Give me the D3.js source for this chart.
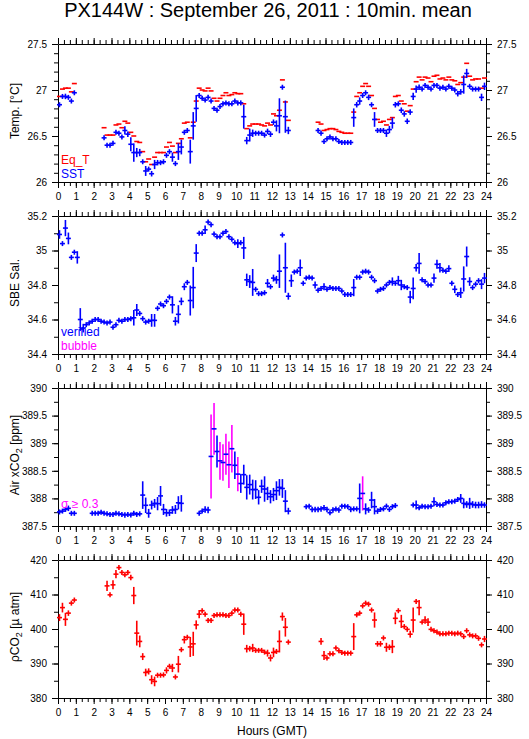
<!DOCTYPE html>
<html>
<head>
<meta charset="utf-8">
<script src="https://cdn.jsdelivr.net/npm/d3@7/dist/d3.min.js"></script>
<style>
body { margin: 0; background: #fff; }
svg text { font-family: "Liberation Sans", Arial, Helvetica, sans-serif; }
</style>
</head>
<body>
<script>
// 10 minute means: 144 slots per day, slot i covers i*10 .. i*10+10 min (GMT), null = no data
const hourTicks = [0,1,2,3,4,5,6,7,8,9,10,11,12,13,14,15,16,17,18,19,20,21,22,23,24]
const tempTicks = [26, 26.5, 27, 27.5]
const salTicks = [34.4, 34.6, 34.8, 35, 35.2]
const airTicks = [387.5, 388, 388.5, 389, 389.5, 390]
const pco2Ticks = [380, 390, 400, 410, 420]

const eqT = [
  26.93, 27.01, 27.02, 27.02, 26.98, 27.07, null, null, null, null, null, null,
  null, null, null, 26.59, 26.51, 26.51, 26.51, 26.62, 26.63, 26.59, 26.66, 26.64,
  26.54, 26.50, 26.44, 26.43, 26.33, 26.22, 26.25, 26.19, 26.27, 26.32, 26.32, 26.32,
  26.38, 26.43, 26.39, 26.32, 26.42, 26.47, 26.64, 26.65, 26.48, 26.65, 26.88, 27.02,
  27.00, 26.99, 27.02, 26.99, 26.91, 26.88, 26.91, 26.94, 26.97, 26.94, 26.95, 26.97,
  26.96, 26.96, 26.85, 26.58, 26.61, 26.63, 26.63, 26.63, 26.62, 26.61, 26.64, 26.62,
  26.74, 26.72, 26.78, 27.11, 26.87, 26.67, null, null, null, null, null, null,
  null, null, null, 26.65, 26.63, 26.56, 26.57, 26.58, 26.58, 26.57, 26.55, 26.54,
  26.53, 26.53, 26.53, 26.76, 26.93, 26.97, 27.04, 27.07, 27.04, 26.94, 26.80, 26.68,
  26.65, 26.66, 26.62, 26.68, 26.70, 26.93, 26.94, 26.88, 26.85, 26.77, 26.83, 27.01,
  27.09, 27.14, 27.11, 27.14, 27.13, 27.09, 27.15, 27.16, 27.12, 27.13, 27.11, 27.14,
  27.11, 27.10, 27.06, 27.08, 27.14, 27.29, 27.15, 27.11, 27.12, 27.12, 27.02, 27.13
]
const sst = [
  26.84, 26.93, 26.93, 26.92, 26.88, 26.97, null, null, null, null, null, null,
  null, null, null, 26.48, 26.40, 26.40, 26.42, 26.54, 26.53, 26.49, 26.56, 26.52,
  26.41, 26.32, 26.32, 26.32, 26.22, 26.12, 26.14, 26.09, 26.19, 26.21, 26.21, 26.22,
  26.29, 26.33, 26.27, 26.20, 26.33, 26.38, 26.54, 26.56, 26.33, 26.61, 26.80, 26.94,
  26.91, 26.89, 26.92, 26.88, 26.80, 26.78, 26.82, 26.85, 26.86, 26.85, 26.85, 26.88,
  26.86, 26.86, 26.71, 26.45, 26.51, 26.53, 26.53, 26.53, 26.53, 26.51, 26.55, 26.52,
  26.65, 26.61, 26.72, 27.03, 26.71, 26.56, null, null, null, null, null, null,
  null, null, null, 26.56, 26.53, 26.44, 26.47, 26.49, 26.47, 26.47, 26.44, 26.43,
  26.43, 26.43, 26.43, 26.70, 26.84, 26.88, 26.94, 26.97, 26.92, 26.84, 26.68, 26.56,
  26.56, 26.56, 26.53, 26.57, 26.64, 26.84, 26.85, 26.78, 26.74, 26.66, 26.76, 26.93,
  27.01, 27.03, 27.01, 27.05, 27.03, 27.01, 27.05, 27.05, 27.02, 27.03, 27.01, 27.04,
  27.02, 27.00, 26.96, 26.98, 27.06, 27.18, 27.04, 27.01, 27.01, 27.01, 26.92, 27.04
]
const sstSd = [
  0, 0, 0.03, 0.02, 0, 0, 0, 0, 0, 0, 0, 0,
  0, 0, 0, 0, 0, 0.02, 0.02, 0.02, 0, 0, 0.045, 0.03,
  0.076, 0.1, 0.05, 0.04, 0, 0.054, 0, 0.03, 0.05, 0.03, 0, 0,
  0, 0, 0.05, 0, 0.09, 0.08, 0, 0, 0.13, 0.15, 0.145, 0,
  0, 0.02, 0.02, 0.02, 0, 0, 0, 0, 0.02, 0, 0, 0,
  0, 0, 0.13, 0.04, 0.07, 0.04, 0.02, 0, 0, 0.02, 0.03, 0.03,
  0.03, 0.06, 0.19, 0.02, 0.175, 0.04, 0, 0, 0, 0, 0, 0,
  0, 0, 0, 0.02, 0.02, 0, 0, 0.02, 0, 0, 0, 0,
  0, 0, 0, 0.1, 0.03, 0.04, 0.02, 0, 0.03, 0, 0.08, 0,
  0, 0, 0.04, 0.04, 0.06, 0.03, 0, 0.03, 0.03, 0.03, 0.03, 0.04,
  0.04, 0.03, 0, 0, 0, 0, 0, 0, 0, 0, 0, 0,
  0, 0, 0.03, 0.03, 0.1, 0.05, 0.02, 0, 0.02, 0.02, 0.04, 0.04
]

const sal = [
  35.093, 35.04, 35.13, 35.07, 34.96, 34.99, 34.96, 34.60, 34.55, 34.57, 34.58, 34.59,
  34.60, 34.60, 34.59, 34.585, 34.58, 34.585, 34.555, 34.57, 34.595, 34.59, 34.60, 34.60,
  34.605, 34.61, 34.655, 34.635, 34.605, 34.585, 34.59, 34.595, 34.595, 34.665, 34.69, 34.68,
  34.705, 34.73, 34.685, 34.59, 34.63, 34.705, 34.79, 34.815, 34.71, 34.785, 34.985, 35.10,
  35.10, 35.12, 35.165, 35.15, 35.095, 35.08, 35.08, 35.10, 35.11, 35.08, 35.065, 35.045,
  35.04, 35.045, 35.015, 34.83, 34.82, 34.815, 34.775, 34.75, 34.75, 34.755, 34.81, 34.79,
  34.84, 34.83, 34.88, 35.09, 34.90, 34.735, 34.825, 34.875, 34.88, 34.90, 34.81, 34.84,
  34.845, 34.84, 34.80, 34.77, 34.78, 34.79, 34.775, 34.785, 34.78, 34.78, 34.78, 34.765,
  34.745, 34.745, 34.745, 34.785, 34.845, 34.845, 34.875, 34.88, 34.875, 34.845, 34.825, 34.765,
  34.775, 34.78, 34.80, 34.815, 34.82, 34.81, 34.825, 34.80, 34.79, 34.785, 34.73, 34.78,
  34.90, 34.925, 34.83, 34.82, 34.80, 34.80, 34.84, 34.92, 34.90, 34.885, 34.88, 34.895,
  34.81, 34.775, 34.745, 34.755, 34.835, 34.965, 34.82, 34.785, 34.805, 34.825, 34.805, 34.84
]
const salSd = [
  0.025, 0.01, 0.047, 0.034, 0, 0.01, 0.036, 0.066, 0.025, 0.01, 0, 0,
  0.01, 0, 0, 0, 0, 0, 0, 0.01, 0, 0, 0, 0,
  0, 0.045, 0.035, 0.01, 0, 0.01, 0.01, 0.037, 0.037, 0, 0, 0,
  0, 0, 0.05, 0.025, 0.053, 0.022, 0.02, 0, 0.087, 0.12, 0.052, 0,
  0, 0.025, 0.01, 0, 0, 0, 0, 0, 0.01, 0, 0, 0,
  0.025, 0, 0.064, 0.036, 0.037, 0.078, 0, 0, 0, 0, 0.025, 0,
  0.02, 0.023, 0.097, 0.01, 0.145, 0.02, 0.036, 0, 0, 0.048, 0, 0.01,
  0, 0, 0.02, 0, 0, 0.02, 0, 0, 0, 0, 0, 0,
  0, 0, 0, 0.05, 0.01, 0.01, 0, 0, 0, 0, 0, 0,
  0, 0, 0, 0.01, 0.024, 0.01, 0.028, 0.03, 0, 0, 0.036, 0.063,
  0.022, 0.06, 0, 0, 0, 0, 0.027, 0.026, 0.028, 0, 0, 0.02,
  0, 0.022, 0, 0.03, 0.073, 0.058, 0.025, 0, 0, 0.01, 0.029, 0.03
]

const airCo2 = [
  387.755, 387.77, 387.80, 387.82, 387.73, 387.73, null, null, null, null, null, 387.73,
  387.73, 387.73, 387.75, 387.73, 387.72, 387.71, 387.71, 387.73, 387.72, 387.71, 387.70, 387.71,
  387.70, 387.73, 387.71, 387.72, 388.06, 387.875, 387.73, 387.88, 387.91, 387.905, 388.045, 387.80,
  387.74, 387.74, 387.79, 387.80, 387.92, 387.91, null, null, null, null, null, 387.73,
  387.77, 387.80, 387.79, 388.76, 389.26, 388.85, 388.68, 388.65, 388.80, 388.61, 388.90, 388.60,
  388.44, 388.27, 388.43, 388.20, 388.25, 388.16, 388.16, 388.02, 388.22, 388.17, 388.09, 388.03,
  388.07, 388.14, 388.20, 388.18, 387.95, 387.77, null, null, null, null, null, 387.85,
  387.86, 387.80, 387.80, 387.80, 387.81, 387.83, 387.80, 387.74, 387.79, 387.81, 387.79, 387.86,
  387.86, 387.85, 387.80, 387.81, 387.81, 388.00, 388.09, 387.81, 387.79, 387.97, 387.85, 387.77,
  387.80, 387.81, 387.86, 387.80, 387.85, 387.87, null, null, null, null, null, 387.88,
  387.88, 387.83, 387.86, 387.85, 387.85, 387.86, 387.94, 387.89, 387.88, 387.88, 387.92, 387.94,
  387.94, 387.95, 387.98, 388.00, 387.91, 387.89, 387.91, 387.89, 387.88, 387.88, 387.89, 387.88
]
const airSd = [
  0.03, 0.02, 0.04, 0.05, 0.03, 0.02, 0, 0, 0, 0, 0, 0.02,
  0.02, 0.02, 0.04, 0.02, 0.02, 0.02, 0.02, 0.02, 0.02, 0.02, 0.05, 0.02,
  0.02, 0.02, 0.03, 0.02, 0.25, 0.14, 0.08, 0.08, 0.08, 0.12, 0.18, 0.1,
  0.07, 0.06, 0.07, 0.08, 0.12, 0.15, 0, 0, 0, 0, 0, 0.02,
  0.03, 0.06, 0.06, 0.76, 0.47, 0.29, 0.34, 0.33, 0.37, 0.42, 0.43, 0.25,
  0.31, 0.17, 0.18, 0.22, 0.18, 0.18, 0.17, 0.13, 0.12, 0.23, 0.12, 0.12,
  0.12, 0.17, 0.15, 0.17, 0.2, 0.06, 0, 0, 0, 0, 0, 0.03,
  0.04, 0.05, 0.05, 0.05, 0.05, 0.05, 0.05, 0.04, 0.05, 0.04, 0.05, 0.03,
  0.03, 0.03, 0.05, 0.04, 0.04, 0.27, 0.31, 0.1, 0.05, 0.15, 0.14, 0.05,
  0.04, 0.03, 0.04, 0.04, 0.04, 0.03, 0, 0, 0, 0, 0, 0.03,
  0.08, 0.04, 0.04, 0.04, 0.04, 0.04, 0.08, 0.04, 0.03, 0.04, 0.04, 0.04,
  0.03, 0.04, 0.04, 0.08, 0.09, 0.06, 0.1, 0.06, 0.06, 0.06, 0.06, 0.05
]

const pco2 = [
  403.3, 406.2, 402.8, 404.6, 407.5, 408.4, null, null, null, null, null, null,
  null, null, null, null, 412.5, 409.9, 412.8, 415.9, 417.8, 416.4, 415.7, 416.4,
  414.9, 409.7, 398.8, 396.4, 392.0, 387.4, 387.7, 385.3, 384.8, 386.6, 386.6, 386.7,
  388.0, 389.2, 388.7, 386.1, 389.8, 394.0, 396.9, 397.6, 394.8, 395.7, 401.2, 404.3,
  405.3, 404.3, 402.5, 402.5, 403.9, 404.1, 404.1, 404.1, 403.9, 403.9, 404.6, 405.5,
  405.5, 404.3, 401.4, 394.3, 394.3, 394.5, 393.8, 393.8, 393.8, 393.3, 393.0, 391.6,
  393.2, 393.5, 396.4, 403.6, 400.5, 396.2, null, null, null, null, null, null,
  null, null, null, null, 396.4, 392.3, 391.6, 392.8, 392.8, 394.5, 393.7, 393.2,
  393.0, 393.0, 393.0, 397.8, 404.1, 404.6, 406.7, 407.5, 407.2, 405.5, 402.6, 395.7,
  395.7, 397.4, 394.7, 394.7, 394.9, 403.1, 405.3, 402.2, 400.7, 399.9, 398.5, 402.6,
  408.0, 406.2, 402.0, 402.6, 402.0, 399.9, 399.5, 399.1, 398.6, 398.6, 398.6, 398.8,
  398.8, 398.6, 398.8, 398.6, 397.8, 399.5, 398.3, 398.0, 398.0, 397.3, 395.4, 397.1
]
const pco2Sd = [
  1.0, 1.4, 1.9, 0.8, 0.4, 0.4, 0, 0, 0, 0, 0, 0,
  0, 0, 0, 0, 1.5, 0.3, 1.3, 1.2, 0.3, 0.4, 0.4, 0.4,
  0.8, 2.5, 3.6, 1.7, 1.0, 1.1, 0.9, 1.3, 1.4, 0.3, 0.3, 0.3,
  0.9, 0.5, 1.2, 0.5, 2.4, 0.6, 1.1, 0.4, 2.9, 3.5, 1.3, 1.2,
  0.6, 0.6, 0.5, 0.6, 0.5, 0.4, 0.3, 0.3, 0.3, 0.3, 0.4, 0.4,
  0.4, 0.4, 3.1, 1.1, 0.8, 1.2, 0.3, 0.3, 0.3, 0.3, 1.0, 1.0,
  1.4, 0.5, 3.2, 1.2, 2.7, 0.6, 0, 0, 0, 0, 0, 0,
  0, 0, 0, 0, 1.0, 1.3, 0.4, 0.6, 0.6, 0.6, 0.4, 0.3,
  0.3, 0.3, 0.3, 3.9, 0.5, 0.4, 0.4, 0.4, 0.4, 0.5, 2.2, 0.8,
  0.8, 0.5, 1.3, 0.8, 1.9, 1.7, 0.5, 1.9, 0.4, 0.7, 1.0, 3.6,
  0.4, 2.2, 0.5, 1.1, 1.1, 0.4, 0.3, 0.3, 0.3, 0.3, 0.3, 0.3,
  0.3, 0.3, 0.3, 0.6, 0.5, 0.4, 0.5, 0.4, 0.4, 0.5, 0.6, 0.9
]

const blue = "#0000ff", red = "#ff0000", magenta = "#ff00ff"
const ph = 138

let svg = d3.select("body").append("svg")
    .attr("width", 529)
    .attr("height", 739)

let x = d3.scaleLinear().domain([0, 24]).range([58, 486])

const panels = [
    {top: 44, domain: [26, 27.5], ticks: tempTicks, minor: 0.1,
     title: [["Temp. [°C]"]],
     legend: [["Eq_T", red], ["SST", blue]],
     series: [{vals: eqT, color: red}, {vals: sst, sd: sstSd, color: blue}]},
    {top: 216, domain: [34.4, 35.2], ticks: salTicks, minor: 0.1,
     title: [["SBE Sal."]],
     legend: [["verified", blue], ["bubble", magenta]],
     series: [{vals: sal, sd: salSd, color: blue}]},
    {top: 388, domain: [387.5, 390], ticks: airTicks, minor: 0.25,
     title: [["Air xCO"], ["2", true], [" [ppm]"]],
     legend: [["σ ≥ 0.3", magenta]],
     series: [{vals: airCo2, sd: airSd, color: blue, flag: 0.3}]},
    {top: 560, domain: [380, 420], ticks: pco2Ticks, minor: 5,
     title: [["ρCO"], ["2", true], [" [µ atm]"]],
     legend: [],
     series: [{vals: pco2, sd: pco2Sd, color: red}]}
]

function drawAxes(p, y) {
    let hMinor = d3.range(0, 24.0001, 1/3)
    let vMinor = d3.range(p.domain[0], p.domain[1] + 1e-6, p.minor)
    let sides = [
        [d3.axisBottom, x, "translate(0," + (p.top + ph) + ")", hourTicks, hMinor, true],
        [d3.axisTop, x, "translate(0," + p.top + ")", hourTicks, hMinor, false],
        [d3.axisLeft, y, "translate(" + x.range()[0] + ",0)", p.ticks, vMinor, true],
        [d3.axisRight, y, "translate(" + x.range()[1] + ",0)", p.ticks, vMinor, true]
    ]
    sides.forEach(([mk, sc, tr, major, minor, lab]) => {
        svg.append("g").attr("transform", tr)
            .call(mk(sc).tickValues(minor).tickSize(4).tickSizeOuter(0).tickFormat(""))
            .call(a => a.select(".domain").remove())
        svg.append("g").attr("transform", tr).attr("font-size", 12)
            .call(mk(sc).tickValues(major).tickSize(6).tickSizeOuter(0).tickPadding(5)
                .tickFormat(lab ? (d => String(d)) : () => ""))
    })
}

// each 10 min mean: a short dash over its interval, plus a +/- sd bar at its centre
function drawSeries(s, y) {
    let g = svg.append("g")
    let idx = d3.range(s.vals.length).filter(i => s.vals[i] != null)
    let half = i => Math.max(2.5, y(s.vals[i]) - y(s.vals[i] + s.sd[i]))
    if (s.sd) {
        g.selectAll(null).data(idx).enter().append("line")
            .attr("x1", i => x((i + 0.5) / 6))
            .attr("x2", i => x((i + 0.5) / 6))
            .attr("y1", i => y(s.vals[i]) - half(i))
            .attr("y2", i => y(s.vals[i]) + half(i))
            .attr("stroke", i => (s.flag && s.sd[i] >= s.flag) ? magenta : s.color)
            .attr("stroke-width", 1.6)
    }
    g.selectAll(null).data(idx).enter().append("line")
        .attr("x1", i => x(i / 6) - 1)
        .attr("x2", i => x((i + 1) / 6) + 1)
        .attr("y1", i => y(s.vals[i]))
        .attr("y2", i => y(s.vals[i]))
        .attr("stroke", s.color)
        .attr("stroke-width", 1.6)
}

panels.forEach(p => {
    let y = d3.scaleLinear().domain(p.domain).range([p.top + ph, p.top])
    drawAxes(p, y)
    p.series.forEach(s => drawSeries(s, y))

    let t = svg.append("text")
        .attr("transform", "translate(19," + (p.top + ph / 2 - 2) + ") rotate(-90)")
        .attr("text-anchor", "middle")
        .attr("font-size", 12)
    p.title.forEach(part => {
        let ts = t.append("tspan").text(part[0])
        if (part[1]) ts.attr("font-size", 9).attr("dy", 3)
        else if (t.selectAll("tspan").size() > 1) ts.attr("dy", -3)
    })

    p.legend.forEach((l, k) => {
        svg.append("text")
            .attr("x", 61)
            .attr("y", p.top + 120 + k * 14)
            .attr("font-size", 12)
            .attr("fill", l[1])
            .text(l[0])
    })
})

svg.append("text")
    .attr("x", 268)
    .attr("y", 17)
    .attr("text-anchor", "middle")
    .attr("font-size", 20)
    .text("PX144W : September 26, 2011 : 10min. mean")

svg.append("text")
    .attr("x", 272)
    .attr("y", 735)
    .attr("text-anchor", "middle")
    .attr("font-size", 12)
    .text("Hours (GMT)")
</script>
</body>
</html>
